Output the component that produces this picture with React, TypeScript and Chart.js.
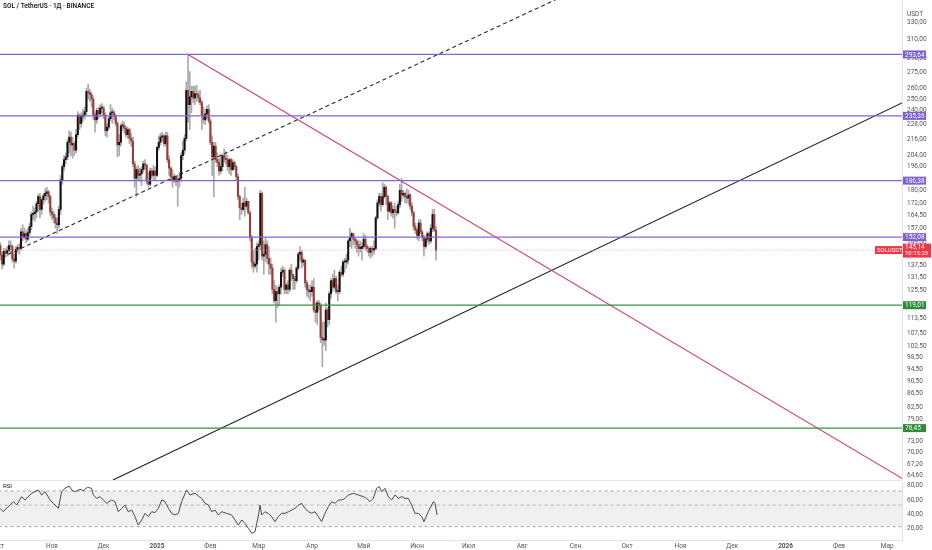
import React, { useEffect, useRef } from 'react';
import { Chart, registerables } from 'chart.js';
Chart.register(...registerables);

// days are counted from 2024-10-01 (day 0), daily candles SOL/USDT
const firstOpen = 153;
const closes = [
  147.5,142.5,138,144.5,143.5,145,147.5,147,140.5,139.5,
  145.5,146.5,146,155,152,154,151,154.5,158,165,
  165.5,166.5,171.5,176,168,174,176.5,178,179,176,
  166.5,165,163,160,159,168,187,196,201,203,
  214,218,212,213,208,220,236,229,235,236,
  239,257,256,254,250,236,232,240,237,242,
  242,236,223,226,233,238,238,235,229,212,
  214,227,227,225,220,224,217,215,198,188,
  194,190,191,194,198,197,186,184,193,190,
  193,190,210,214,218,219,213,219,201,195,
  189,187,189,186,187,188,204,208,217,258,
  245,252,257,251,255,254,251,247,236,232,
  237,241,231,214,203,211,201,199,193,196,
  204,202,201,196,201,194,199,196,189,176,
  169,168,172,170,173,166,152,139,137,138,
  147,148,178,142,143,148,141,138,136,126,
  121,125,124,127,134,135,126,128,126,135,
  133,131,130,136,143,144,139,140,129,126,
  125,125,127,117,116,120,119,106,105,105,
  117,113,124,130,127,131,125,125,134,133,
  139,139,140,150,152,154,151,150,148,146,
  146,147,151,147,146,144,146,145,146,163,
  172,176,171,176,182,176,167,172,166,168,
  167,166,171,180,177,178,176,175,177,170,
  166,158,156,153,160,155,152,147,151,154,
  150,157,165,156,145.14,
];
const highs = [
  155,149,144,146,146,147,150,150,148,143,
  147,148,148.5,157,159,157,155.5,157,160,166.5,
  170,169,173,177.5,178,175,178,181,182,180,
  177,169,167,165,163,170,190,198,204,206,
  216,223,222,218,215,224,239,237,238,241,
  243,260,264,259,256,252,238,242,243,245,
  246,244,238,229,235,245,242,240,237,231,
  220,229,231,230,227,226,225,221,218,200,
  196,197,195,196,200,201,198,192,195,195,
  197,196,211,219,221,222,220,222,222,204,
  196,194,191,190,190,192,206,215,220,266,
  294,276,262,262,262,263,257,258,249,243,
  241,244,245,233,219,214,214,206,202,205,
  205,209,207,204,202,202,201,200,197,191,
  177,172,175,182,175,173,167,153,145,146,
  149,150,180,179,150,152,150,147,141,138,
  130,128,127,128,136,137,136,129,130,136,
  138,133,132,137,144,147,145,141,140,130,
  128,128,130,131,120,121,121,120,112,112,
  120,118,125,131,133,135,132,128,135,137,
  140,141,143,151,157,155,154,152,151,150,
  150,149,154,153,148,147,147,147,150,164,
  174,178,178,185,184,183,177,173,173,170,
  172,170,173,184,188,180,179,181,180,178,
  172,167,160,157,162,162,156,153,152,155,
  155,159,168,168,158,
];
const lows = [
  142,140,135.5,137,141.5,142,144,143.5,139,136,
  138.5,144,143,145,150,151,149,150,153,156,
  162,161,163,167,163,165,171,173,174,172,
  164,162,160,157,154,157,165,184,193,198,
  201,206,204,202,204,206,218,224,226,231,
  233,236,250,248,243,232,222,229,233,235,
  238,233,219,218,224,231,229,232,227,203,
  204,211,223,221,218,217,213,211,196,182,
  176,187,186,183,192,194,184,182,183,188,
  187,187,189,208,212,215,211,211,199,190,
  186,182,185,183,170,182,186,201,205,215,
  230,224,238,247,245,248,247,245,224,229,
  228,233,229,212,190,176,199,196,190,191,
  193,199,198,193,191,190,193,194,187,174,
  162,165,167,164,168,165,150,136,134,136,
  134,140,145,140,133,139,138,133,133,124,
  120,112,118,119,124,132,124,124,124,125,
  130,126,126,129,135,140,136,137,127,123,
  122,121,123,116,112,111,117,104,95.3,103,
  101,110,111,122,125,126,124,121,124,132,
  132,134,136,138,147,146,148,146,144,142,
  144,140,146,145,144,142,141,142,143,145,
  162,170,167,170,175,171,162,166,164,163,
  157,164,165,169,173,175,172,172,171,168,
  164,156,154,151,150,154,150,142,146,149,
  148,149,155,155,140,
];

const priceTicks = [330,310,290,275,260,250,240,228,216,204,196,180,172,164.5,157,149,137.5,131.5,125.5,113.5,107.5,102.5,98.5,94.5,90.5,86.5,82.5,79,73,70,67.2,64.6];
const purpleLevels = [293.64, 235.36, 186.38, 152.08];
const greenLevels = [119.01, 76.45];
const lastPrice = 145.14;
const countdown = '10:15:29';

const monthDays = [0,31,61,92,123,151,182,212,243,273,304,335,365,396,426,457,488,516];
const monthLabels = ['Окт','Ноя','Дек','2025','Фев','Мар','Апр','Май','Июн','Июл','Авг','Сен','Окт','Ноя','Дек','2026','Фев','Мар'];

const redTrendDays = [110, 524.6];
const redTrendPrices = [293.64, 63.8];
const blackTrendDays = [66.4, 524.6];
const blackTrendPrices = [63.42, 246.5];
const dashTrendDays = [5.5, 331.8];
const dashTrendPrices = [142.9, 366.3];

const rsiDays = [0.8,2.7,8.6,10.5,13.4,15.3,19.2,23.1,25.0,27.0,29.9,31.8,34.7,36.6,38.6,41.1,42.4,44.4,47.3,49.2,51.5,54.0,55.0,57.0,58.9,60.8,62.8,65.7,67.6,69.5,71.5,73.4,75.3,77.3,79.2,81.1,83.1,85.0,87.0,88.9,90.8,92.8,94.7,96.6,98.6,100.5,102.4,104.4,106.3,109.2,111.1,114.1,116.0,117.9,119.9,121.8,123.7,125.7,127.6,129.5,132.4,135.3,137.3,139.2,141.2,143.1,145.0,147.0,148.9,149.9,150.8,151.8,152.8,154.7,156.6,158.6,160.5,162.4,164.4,166.3,168.3,170.2,172.1,174.1,176.0,177.9,179.9,181.8,183.7,185.7,187.6,189.5,191.5,193.4,195.4,197.3,199.2,201.2,203.1,206.0,208.9,211.8,213.7,215.7,217.6,219.5,221.1,222.4,224.4,226.3,228.3,230.2,232.1,234.1,236.0,237.9,239.9,241.8,243.8,245.7,247.0,249.5,252.5,253.4,254.6];
const rsiValues = [48.4,43.7,57.7,53.0,64.7,60.0,69.3,74.0,67.0,71.6,60.0,55.3,48.4,71.6,76.3,79.5,74.0,71.6,74.9,73.0,77.7,76.3,67.0,62.3,64.7,60.0,55.3,60.0,57.7,43.7,48.4,53.0,43.7,46.0,36.7,25.1,32.1,41.4,36.7,43.7,42.3,48.4,60.0,57.7,48.4,41.4,39.1,41.4,57.7,74.0,67.0,69.3,65.6,62.3,55.3,53.0,43.7,46.0,39.1,43.7,41.4,39.1,32.1,25.1,32.1,27.4,20.5,13.5,15.8,27.4,36.7,53.0,39.1,43.7,41.4,36.7,29.8,36.7,41.4,41.4,43.7,46.0,48.4,53.0,55.3,48.4,43.7,41.4,43.7,36.7,29.8,41.4,50.7,57.7,55.3,60.0,60.0,62.3,67.0,69.3,67.0,64.7,62.3,57.7,62.3,76.3,78.6,71.6,76.3,64.7,60.0,67.0,62.3,64.7,62.3,62.3,53.0,41.4,41.4,36.7,29.8,43.7,57.7,55.3,39.1];
const rsiTicks = [80, 60, 40, 20];
const rsiUpper = 72.6;
const rsiMiddle = 53;
const rsiLower = 22.8;

const X_MIN = 0.813;
const X_MAX = 524.6;
const P_MIN = 63.42;
const P_MAX = 357.2;
const R_MIN = 4.2;
const R_MAX = 85.1;

const FONT = 'Roboto';
const PURPLE = '#7e68d8';
const PURPLE_BOX = '#7b5fd3';
const GREEN = '#3a8f3f';
const GREEN_BOX = '#2f8a36';
const RED = '#f23645';
const UP = '#111111';
const DOWN = '#9a3b35';
const WICK = '#a9a9a9';

const fmt = (v: number) => v.toFixed(2).replace('.', ',');

const hLine = (level: number, color: string, width: number, dash: number[] = []) => ({
  type: 'line' as const,
  data: [{ x: 0, y: level }, { x: 530, y: level }],
  borderColor: color,
  borderWidth: width,
  borderDash: dash,
  pointRadius: 0,
  order: 0,
});

const trend = (ds: number[], ps: number[], color: string, width: number, dash: number[] = []) => ({
  type: 'line' as const,
  data: ds.map((d, i) => ({ x: d, y: ps[i] })),
  borderColor: color,
  borderWidth: width,
  borderDash: dash,
  pointRadius: 0,
  order: 0,
});

const priceOverlay = {
  id: 'priceOverlay',
  afterDraw(chart: any) {
    const { ctx, chartArea, scales } = chart;
    const y = scales.y;
    const r = chartArea.right;
    ctx.save();
    ctx.textBaseline = 'middle';
    ctx.textAlign = 'left';
    // title
    ctx.fillStyle = '#131722';
    ctx.font = `600 6.5px ${FONT}`;
    ctx.fillText('SOL / TetherUS · 1Д · BINANCE', 3, 6);
    ctx.fillStyle = '#555';
    ctx.font = `6.5px ${FONT}`;
    ctx.fillText('USDT', r + 5, 14);
    const box = (val: number, color: string) => {
      const py = y.getPixelForValue(val);
      ctx.fillStyle = color;
      ctx.fillRect(r + 1, py - 4, 23, 8);
      ctx.fillStyle = '#fff';
      ctx.font = `6.5px ${FONT}`;
      ctx.fillText(fmt(val), r + 3, py + 0.5);
    };
    purpleLevels.forEach((v) => box(v, PURPLE_BOX));
    greenLevels.forEach((v) => box(v, GREEN_BOX));
    // last price
    const py = y.getPixelForValue(lastPrice);
    ctx.fillStyle = RED;
    ctx.fillRect(r - 27, py - 4, 27, 8);
    ctx.fillRect(r + 1, py - 6.5, 28, 14);
    ctx.fillStyle = '#fff';
    ctx.font = `6px ${FONT}`;
    ctx.fillText('SOLUSDT', r - 25, py + 0.5);
    ctx.font = `6.5px ${FONT}`;
    ctx.fillText(fmt(lastPrice), r + 3, py - 2.5);
    ctx.font = `6px ${FONT}`;
    ctx.fillText(countdown, r + 3, py + 3.8);
    ctx.restore();
  },
};

const rsiOverlay = {
  id: 'rsiOverlay',
  afterDraw(chart: any) {
    const { ctx } = chart;
    ctx.save();
    ctx.textBaseline = 'middle';
    ctx.textAlign = 'left';
    ctx.fillStyle = '#131722';
    ctx.font = `6px ${FONT}`;
    ctx.fillText('RSI', 3, 5);
    ctx.restore();
  },
};

export default function App() {
  const priceRef = useRef<HTMLCanvasElement>(null);
  const rsiRef = useRef<HTMLCanvasElement>(null);

  useEffect(() => {
    const opens = closes.map((_, i) => (i === 0 ? firstOpen : closes[i - 1]));
    const days = closes.map((_, i) => i);

    const priceChart = new Chart(priceRef.current as HTMLCanvasElement, {
      type: 'bar',
      data: {
        datasets: [
          {
            type: 'bar',
            data: days.map((d, i) => ({ x: d, y: [lows[i], highs[i]] })) as any,
            backgroundColor: WICK,
            barThickness: 1,
            grouped: false,
            borderWidth: 0,
            order: 3,
          } as any,
          {
            type: 'bar',
            data: days.map((d, i) => ({ x: d, y: [opens[i], closes[i]] })) as any,
            backgroundColor: days.map((i) => (closes[i] >= opens[i] ? UP : DOWN)),
            barThickness: 1.4,
            grouped: false,
            borderWidth: 0,
            minBarLength: 1,
            order: 2,
          } as any,
          ...purpleLevels.map((v) => hLine(v, PURPLE, 1.3)),
          ...greenLevels.map((v) => hLine(v, GREEN, 1.2)),
          hLine(lastPrice, '#f5a3aa', 1, [1, 2]),
          trend(redTrendDays, redTrendPrices, '#d13d6c', 1.1),
          trend(blackTrendDays, blackTrendPrices, '#1f1f1f', 1.1),
          trend(dashTrendDays, dashTrendPrices, '#2a2a2a', 1.1, [4, 3]),
        ] as any,
      },
      options: {
        responsive: false,
        animation: false,
        events: [],
        layout: { padding: 0 },
        plugins: { legend: { display: false }, tooltip: { enabled: false }, title: { display: false } },
        scales: {
          x: {
            type: 'linear',
            min: X_MIN,
            max: X_MAX,
            bounds: 'data',
            offset: false,
            display: false,
            grid: { display: false, offset: false },
          },
          y: {
            type: 'logarithmic',
            position: 'right',
            min: P_MIN,
            max: P_MAX,
            bounds: 'data',
            grid: { display: false, drawTicks: false },
            border: { display: true, color: '#e0e3eb' },
            ticks: {
              autoSkip: false,
              padding: 5,
              color: '#555',
              font: { family: FONT, size: 6.5 },
              callback: (v: any) => fmt(Number(v)),
            },
            afterBuildTicks: (s: any) => {
              s.ticks = priceTicks.map((v) => ({ value: v }));
            },
            afterFit: (s: any) => {
              s.width = 30;
              s.paddingTop = 0;
              s.paddingBottom = 0;
            },
          },
        },
      } as any,
      plugins: [priceOverlay],
    });

    const rsiChart = new Chart(rsiRef.current as HTMLCanvasElement, {
      type: 'line',
      data: {
        datasets: [
          {
            data: [{ x: 0, y: rsiUpper }, { x: 530, y: rsiUpper }],
            borderColor: '#a8a8a8',
            borderWidth: 1,
            borderDash: [3, 3],
            pointRadius: 0,
            fill: { value: rsiLower },
            backgroundColor: '#f0f0f0',
            order: 3,
          },
          {
            data: [{ x: 0, y: rsiMiddle }, { x: 530, y: rsiMiddle }],
            borderColor: '#b5b5b5',
            borderWidth: 1,
            borderDash: [3, 3],
            pointRadius: 0,
            order: 2,
          },
          {
            data: [{ x: 0, y: rsiLower }, { x: 530, y: rsiLower }],
            borderColor: '#a8a8a8',
            borderWidth: 1,
            borderDash: [3, 3],
            pointRadius: 0,
            order: 2,
          },
          {
            data: rsiDays.map((d, i) => ({ x: d, y: rsiValues[i] })),
            borderColor: '#4a4a4a',
            borderWidth: 1,
            pointRadius: 0,
            order: 0,
          },
        ] as any,
      },
      options: {
        responsive: false,
        animation: false,
        events: [],
        layout: { padding: { top: 1, left: 0, right: 0, bottom: 0 } },
        plugins: { legend: { display: false }, tooltip: { enabled: false }, title: { display: false } },
        scales: {
          x: {
            type: 'linear',
            min: X_MIN,
            max: X_MAX,
            bounds: 'data',
            offset: false,
            grid: { display: false, drawTicks: false },
            border: { display: true, color: '#e0e3eb' },
            ticks: {
              autoSkip: false,
              maxRotation: 0,
              minRotation: 0,
              padding: 2,
              color: '#555',
              font: (c: any) => ({
                family: FONT,
                size: 6.5,
                weight: c.tick && (c.tick.value === 92 || c.tick.value === 457) ? 'bold' : 'normal',
              }),
              callback: (v: any) => {
                const idx = monthDays.indexOf(Number(v));
                return idx >= 0 ? monthLabels[idx] : '';
              },
            },
            afterBuildTicks: (s: any) => {
              s.ticks = monthDays.map((v) => ({ value: v }));
            },
            afterFit: (s: any) => {
              s.height = 10;
              s.paddingLeft = 0;
              s.paddingRight = 0;
            },
          },
          y: {
            type: 'linear',
            position: 'right',
            min: R_MIN,
            max: R_MAX,
            bounds: 'data',
            grid: { display: false, drawTicks: false },
            border: { display: true, color: '#e0e3eb' },
            ticks: {
              autoSkip: false,
              padding: 5,
              color: '#555',
              font: { family: FONT, size: 6.5 },
              callback: (v: any) => fmt(Number(v)),
            },
            afterBuildTicks: (s: any) => {
              s.ticks = rsiTicks.map((v) => ({ value: v }));
            },
            afterFit: (s: any) => {
              s.width = 30;
              s.paddingTop = 0;
              s.paddingBottom = 0;
            },
          },
        },
      } as any,
      plugins: [rsiOverlay],
    });

    return () => {
      priceChart.destroy();
      rsiChart.destroy();
    };
  }, []);

  return (
    <div style={{ position: 'fixed', left: 0, top: 0, width: 932, height: 550, background: '#ffffff', overflow: 'hidden' }}>
      <canvas ref={priceRef} width={932} height={480} style={{ position: 'absolute', left: 0, top: 0 }} />
      <div style={{ position: 'absolute', left: 0, top: 480, width: 902, height: 1, background: '#e8e8e8' }} />
      <canvas ref={rsiRef} width={932} height={69} style={{ position: 'absolute', left: 0, top: 481 }} />
    </div>
  );
}
